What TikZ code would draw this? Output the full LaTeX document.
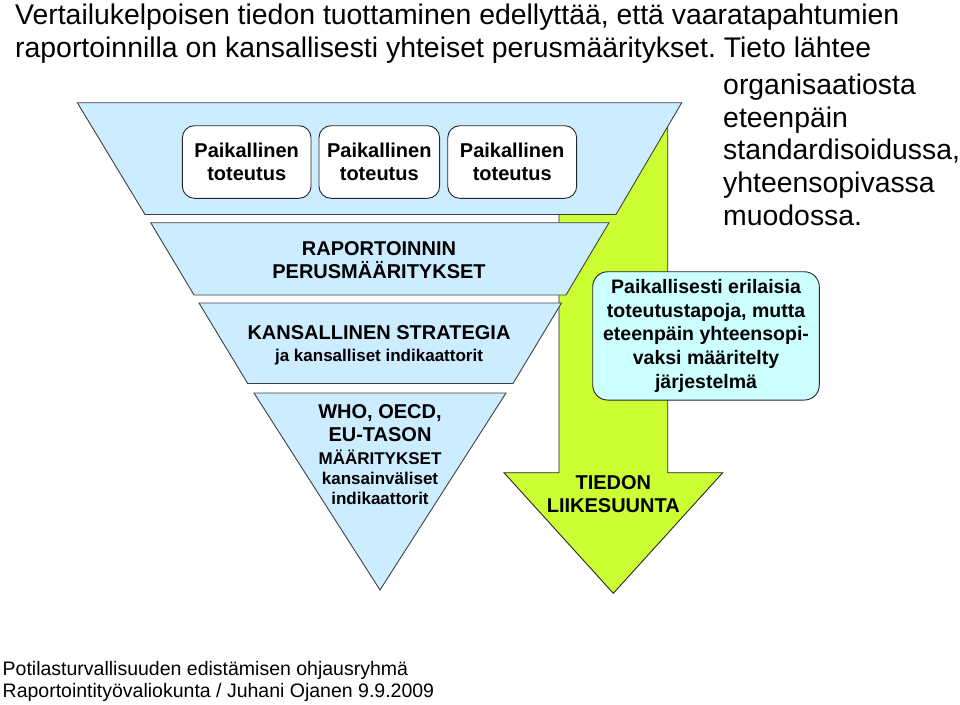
\documentclass[tikz,border=0pt]{standalone}
\usepackage{fontspec}
\setmainfont{Liberation Sans}
\frenchspacing
\definecolor{bandblue}{RGB}{204,236,255}
\definecolor{flowgreen}{RGB}{204,255,51}
\definecolor{infocyan}{RGB}{204,255,255}
\tikzset{
  band/.style={draw=black!75, line width=0.9pt, fill=bandblue},
  flowarrow/.style={draw=black!85, line width=0.9pt, fill=flowgreen},
  localbox/.style={draw=black!85, line width=0.9pt, fill=white, rounded corners=12pt,
    minimum height=72.6pt, inner sep=0pt, align=center,
    font=\bfseries\fontsize{20}{23.3}\selectfont},
  infobox/.style={draw=black!85, line width=0.9pt, fill=infocyan, rounded corners=15pt,
    minimum width=226.6pt, minimum height=128.3pt, inner sep=0pt, align=center,
    font=\bfseries\fontsize{19.5}{23.8}\selectfont},
  bandtext/.style={align=center, inner sep=0pt, font=\bfseries\fontsize{20}{23.5}\selectfont},
  smalltext/.style={align=center, inner sep=0pt, font=\bfseries\fontsize{17}{20}\selectfont},
  titletext/.style={anchor=base west, inner sep=0pt, font=\fontsize{28.4}{33}\selectfont},
  foottext/.style={anchor=base west, inner sep=0pt, font=\fontsize{19.5}{22}\selectfont},
}
\begin{document}
\begin{tikzpicture}[x=1pt,y=-1pt]
\useasboundingbox (0,0) rectangle (960,704);
\pgfmathsetmacro{\sl}{559}
\pgfmathsetmacro{\sr}{667.7}
\pgfmathsetmacro{\hb}{472.7}
% flow arrow behind the funnel
  \draw[flowarrow](\sl,110)--(\sl,\hb)--(504,\hb)--(613.3,593.3)--(722.7,\hb)--(\sr,\hb)--(\sr,110)--cycle;
  \node[bandtext] (flow) at (613.3,494) {TIEDON\\LIIKESUUNTA};
% funnel bands
  \draw[band](77.3,102.7)--(681.7,102.7)--(616,214.5)--(145,214.5)--cycle;
  \draw[band](150.7,222.7)--(609,222.7)--(566,295)--(194,295)--cycle;
  \draw[band](199,303)--(561.5,303)--(513,383.5)--(247.7,383.5)--cycle;
  \draw[band](254,393)--(506,393)--(380,590)--cycle;
  \node[localbox, minimum width=128.6pt] (loca) at (246.7,162) {Paikallinen\\toteutus};
  \node[localbox, minimum width=120.6pt] (locb) at (379.3,162) {Paikallinen\\toteutus};
  \node[localbox, minimum width=128.9pt] (locc) at (512.2,162) {Paikallinen\\toteutus};
  \node[bandtext] (raport) at (379,260) {RAPORTOINNIN\\PERUSMÄÄRITYKSET};
  \node[bandtext] (strategia) at (379,333) {KANSALLINEN STRATEGIA};
  \node[smalltext] (indik) at (379,357) {ja kansalliset indikaattorit};
  \node[bandtext] (who) at (380,423) {WHO, OECD,\\EU-TASON};
  \node[smalltext] (intl) at (380,477) {MÄÄRITYKSET\\kansainväliset\\indikaattorit};
  \node[infobox] (info) at (706,335.9) {Paikallisesti erilaisia\\toteutustapoja, mutta\\eteenpäin yhteensopi-\\vaksi määritelty\\järjestelmä};
% title and footer
  \node[titletext] (titlea) at (15,24) {Vertailukelpoisen tiedon tuottaminen edellyttää, että vaaratapahtumien};
  \node[titletext] (titleb) at (15,57) {raportoinnilla on kansallisesti yhteiset perusmääritykset. Tieto lähtee};
  \node[titletext] (cola) at (723,94) {organisaatiosta};
  \node[titletext] (colb) at (723,127) {eteenpäin};
  \node[titletext] (colc) at (723,159.5) {standardisoidussa,};
  \node[titletext] (cold) at (723,192) {yhteensopivassa};
  \node[titletext] (cole) at (723,225) {muodossa.};
  \node[foottext] (foota) at (2.5,675) {Potilasturvallisuuden edistämisen ohjausryhmä};
  \node[foottext] (footb) at (2.5,697) {Raportointityövaliokunta / Juhani Ojanen 9.9.2009};
\end{tikzpicture}
\end{document}
